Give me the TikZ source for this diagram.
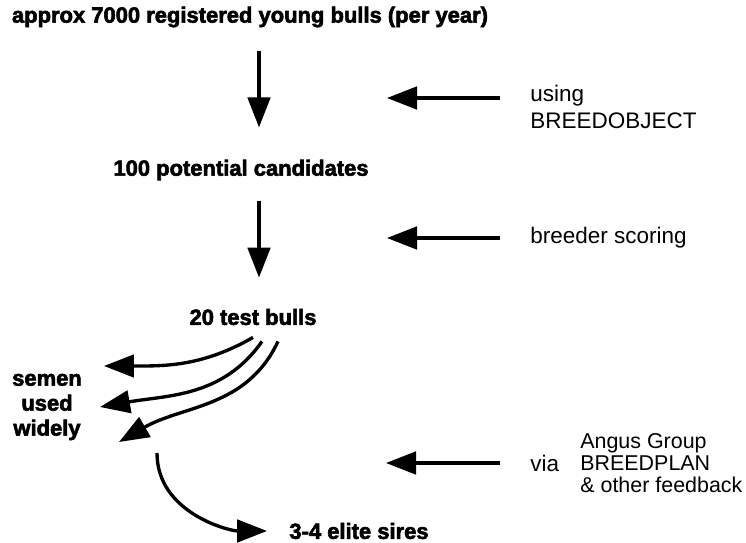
\documentclass[tikz,border=0pt]{standalone}
\usepackage{fontspec}
\setmainfont{Liberation Sans}
\newfontfamily\heavyfont[FakeBold=2.6]{Liberation Sans Bold}
\usetikzlibrary{arrows.meta,positioning}
\tikzset{
  stage/.style={font=\heavyfont\fontsize{12.5}{14.2}\selectfont, inner sep=0pt},
  note/.style={font=\fontsize{12.8}{15.4}\selectfont, inner sep=0pt, align=left, anchor=west},
  flow/.style={-{Triangle[length=0.6cm,width=0.45cm]}, line width=1.9pt},
}
\begin{document}
\begin{tikzpicture}[x=0.02cm,y=0.02cm]
  \useasboundingbox (0,0) rectangle (746,-543);
  % selection stages, top to bottom
  \node[stage] (young) at (250,-17) {approx 7000 registered young bulls (per year)};
  \node[stage] (cand) at (241,-170) {100 potential candidates};
  \node[stage] (test) at (253,-317) {20 test bulls};
  \node[stage, align=center] (semen) at (47,-407) {semen\\used\\widely};
  \node[stage] (elite) at (359,-531) {3-4 elite sires};
  % what each step is based on
  \node[note] (using) at (530,-107) {using\\BREEDOBJECT};
  \node[note] (scoring) at (530,-238) {breeder scoring};
  \node[note] (via) at (530,-463) {via};
  \node[note, font=\fontsize{12.2}{12.6}\selectfont] (angus) at (580,-463) {Angus Group\\BREEDPLAN\\\& other feedback};
  % main line down
  \coordinate (spine) at (259,0);
  \draw[flow, shorten <=0.46cm, shorten >=0.64cm] (young.south -| spine) -- (cand.north -| spine);
  \draw[flow, shorten <=0.4cm, shorten >=0.62cm] (cand.south -| spine) -- (test.north -| spine);
  % feedback arrows from the right
  \coordinate (fb1) at (387,-98);
  \coordinate (fb2) at (387,-238);
  \coordinate (fb3) at (386,-463);
  \draw[flow, shorten <=0.6cm] (using.west |- fb1) -- (fb1);
  \draw[flow, shorten <=0.6cm] (scoring.west |- fb2) -- (fb2);
  \draw[flow, shorten <=0.6cm] (via.west |- fb3) -- (fb3);
  % test bulls out to wide use
  \coordinate (s1) at (104,-366);
  \coordinate (s2) at (100,-407);
  \coordinate (s3) at (119,-442);
  \draw[flow] ([xshift=0cm,yshift=-0.24cm]test.south) to[out=-150,in=0] (s1);
  \draw[flow] ([xshift=0.18cm,yshift=-0.32cm]test.south) to[out=-125,in=10] (s2);
  \draw[flow] ([xshift=0.5cm,yshift=-0.32cm]test.south) to[out=-115,in=30] (s3);
  % then on to the elite sires
  \coordinate (e0) at (157,-453);
  \draw[flow, shorten >=0.44cm] (e0) to[out=-90,in=180] (elite.west);
\end{tikzpicture}
\end{document}
